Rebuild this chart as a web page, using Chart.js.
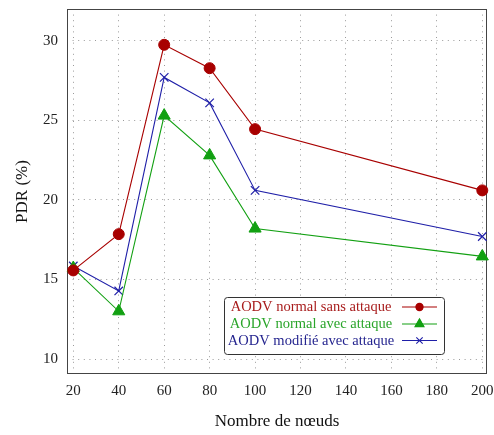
<!DOCTYPE html>
<html>
<head>
<meta charset="utf-8">
<script src="https://cdn.jsdelivr.net/npm/chart.js@4.4.1/dist/chart.umd.min.js"></script>
<style>
html,body{margin:0;padding:0;background:#fff;}
#wrap{width:494px;height:435px;}
</style>
</head>
<body>
<div id="wrap"><canvas id="c" width="494" height="435"></canvas></div>
<script>
const nodes = [20, 40, 60, 80, 100, 200];
const normalSansAttaque = [15.57, 17.85, 29.75, 28.28, 24.45, 20.6];
const normalAvecAttaque = [15.72, 13.0, 25.3, 22.8, 18.2, 16.45];
const modifieAvecAttaque = [15.85, 14.28, 27.7, 26.1, 20.6, 17.7];
const xTicks = [20, 40, 60, 80, 100, 120, 140, 160, 180, 200];
const yTicks = [10, 15, 20, 25, 30];
const seriesLabels = ['AODV normal sans attaque', 'AODV normal avec attaque', 'AODV modifié avec attaque'];
const xTitle = 'Nombre de nœuds';
const yTitle = 'PDR (%)';

const RED = '#a80000', GREEN = '#12a012', BLUE = '#1f1fa8';
const TEXTCOL = ['#a81c1c', '#2aa52a', '#25258f'];

function mk(label, vals, color, style, r) {
  return {
    label: label,
    data: nodes.map((x, i) => ({x: x, y: vals[i]})),
    borderColor: color, backgroundColor: color,
    borderWidth: 1.1, pointStyle: style, pointRadius: r,
    pointBorderWidth: style === 'crossRot' ? 1.2 : 1,
    pointBackgroundColor: color, pointBorderColor: color,
    tension: 0, clip: false, fill: false
  };
}

const frame = {
  id: 'frame',
  beforeDatasetsDraw(chart) {
    const {ctx, chartArea: a} = chart;
    ctx.save();
    ctx.strokeStyle = '#444';
    ctx.lineWidth = 1;
    ctx.strokeRect(Math.round(a.left) + 0.5, Math.round(a.top) + 0.5, Math.round(a.right - a.left) - 1, Math.round(a.bottom - a.top) - 1);
    ctx.restore();
  }
};

const legendBox = {
  id: 'legendBox',
  afterDatasetsDraw(chart) {
    const ctx = chart.ctx;
    const bx = 224, by = 297, bw = 220, bh = 57, rad = 3;
    ctx.save();
    ctx.beginPath();
    ctx.roundRect(bx + 0.5, by + 0.5, bw, bh, rad);
    ctx.fillStyle = '#fff';
    ctx.fill();
    ctx.strokeStyle = '#333';
    ctx.lineWidth = 1;
    ctx.stroke();
    const rows = [306.5, 323.5, 340];
    const symR = [3.6, 5.2, 4.5];
    chart.data.datasets.forEach((ds, i) => {
      ctx.font = '14.5px "Liberation Serif"';
      ctx.fillStyle = TEXTCOL[i];
      ctx.textAlign = 'center';
      ctx.textBaseline = 'middle';
      ctx.fillText(ds.label, 311, rows[i] + 1);
      ctx.strokeStyle = ds.borderColor;
      ctx.lineWidth = 1.1;
      ctx.beginPath();
      ctx.moveTo(402, rows[i] + 0.5);
      ctx.lineTo(437, rows[i] + 0.5);
      ctx.stroke();
      ctx.fillStyle = ds.borderColor;
      Chart.helpers.drawPoint(ctx, {pointStyle: ds.pointStyle, radius: symR[i], borderWidth: 1.2, rotation: 0}, 419.5, rows[i] + 0.5);
      if (ds.pointStyle !== 'crossRot') ctx.fill();
    });
    ctx.restore();
  }
};

new Chart(document.getElementById('c'), {
  type: 'line',
  data: {
    datasets: [
      mk(seriesLabels[0], normalSansAttaque, RED, 'circle', 5.5),
      mk(seriesLabels[1], normalAvecAttaque, GREEN, 'triangle', 7),
      mk(seriesLabels[2], modifieAvecAttaque, BLUE, 'crossRot', 6)
    ]
  },
  options: {
    responsive: false,
    animation: false,
    devicePixelRatio: 1,
    layout: {autoPadding: false, padding: {top: 9, right: 7, left: 0, bottom: 0}},
    plugins: {legend: {display: false}, tooltip: {enabled: false}},
    scales: {
      x: {
        type: 'linear', min: 17.23, max: 202.07,
        afterBuildTicks: s => { s.ticks = xTicks.map(v => ({value: v})); },
        afterFit: s => { s.height = 61; s.paddingLeft = 0; s.paddingRight = 0; },
        grid: {color: '#9a9a9a', lineWidth: 1, drawTicks: false},
        border: {display: false, dash: [1, 4.6]},
        ticks: {padding: 8, color: '#222', font: {family: 'Liberation Serif', size: 15}, maxRotation: 0, autoSkip: false},
        title: {display: true, text: xTitle, color: '#111', font: {family: 'Liberation Serif', size: 17}, padding: {top: 0, bottom: 3}}
      },
      y: {
        type: 'linear', min: 9.06, max: 32.0,
        afterBuildTicks: s => { s.ticks = yTicks.map(v => ({value: v})); },
        afterFit: s => { s.width = 67; s.paddingTop = 0; s.paddingBottom = 0; },
        grid: {color: '#9a9a9a', lineWidth: 1, drawTicks: false},
        border: {display: false, dash: [1, 4.6]},
        ticks: {padding: 9, color: '#222', font: {family: 'Liberation Serif', size: 15}},
        title: {display: true, text: yTitle, color: '#111', font: {family: 'Liberation Serif', size: 17}, padding: {top: 12, bottom: 0}}
      }
    }
  },
  plugins: [frame, legendBox]
});
</script>
</body>
</html>
